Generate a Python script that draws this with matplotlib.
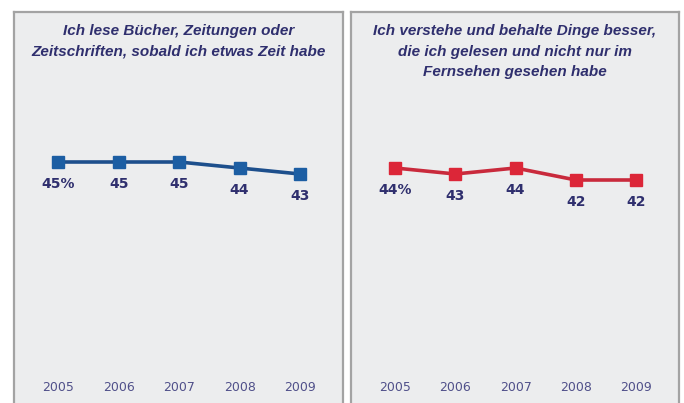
import matplotlib.pyplot as plt

years = [2005, 2006, 2007, 2008, 2009]
read_when_time = [45, 45, 45, 44, 43]
understand_better = [44, 43, 44, 42, 42]
labels_left = ['45%', '45', '45', '44', '43']
labels_right = ['44%', '43', '44', '42', '42']
title_left = 'Ich lese Bücher, Zeitungen oder\nZeitschriften, sobald ich etwas Zeit habe'
title_right = ('Ich verstehe und behalte Dinge besser,\ndie ich gelesen und nicht nur im\n'
               'Fernsehen gesehen habe')

W, H = 684, 403
fig = plt.figure(figsize=(6.84, 4.03), dpi=100)
fig.patch.set_facecolor('white')

navy = '#2f2f6e'
year_col = '#50508a'
panel_bg = '#ecedee'


def make_panel(left_px, right_px, values, labels, title, color, line_color):
    ax = fig.add_axes([left_px / W, 0, (right_px - left_px) / W, (H - 12) / H])
    ax.set_facecolor(panel_bg)
    for s in ['top', 'left', 'right']:
        ax.spines[s].set_color('#a3a3a3')
        ax.spines[s].set_linewidth(1.6)
    ax.spines['bottom'].set_visible(False)
    ax.set_xticks([])
    ax.set_yticks([])
    ax.set_xlim(years[0] - 0.73, years[0] + 4.71)
    # 6 px per percentage point, 45% sits at y=162 px
    ax.set_ylim(70 - 391 / 6, 70)

    ax.plot(years, values, color=line_color, lw=2.6, marker='s', ms=9,
            mfc=color, mec=color, zorder=3)
    for x, v, lab in zip(years, values, labels):
        ax.annotate(lab, (x, v), xytext=(0, -15.5), textcoords='offset points',
                    ha='center', va='center', fontsize=10, fontweight='bold',
                    color=navy)
    for x in years:
        ax.text(x, 0.04, str(x), transform=ax.get_xaxis_transform(),
                ha='center', va='center', fontsize=9, color=year_col)
    ax.text(0.5, 1 - 12 / 391, title, transform=ax.transAxes, ha='center',
            va='top', fontsize=11, fontweight='bold', fontstyle='italic',
            family='Liberation Sans', color=navy, linespacing=1.6)
    return ax


make_panel(14, 343, read_when_time, labels_left, title_left, '#1c5ea3', '#1d4f8c')
make_panel(351, 679, understand_better, labels_right, title_right, '#dc2638', '#c92a3c')

fig.savefig('out.png', dpi=100)
